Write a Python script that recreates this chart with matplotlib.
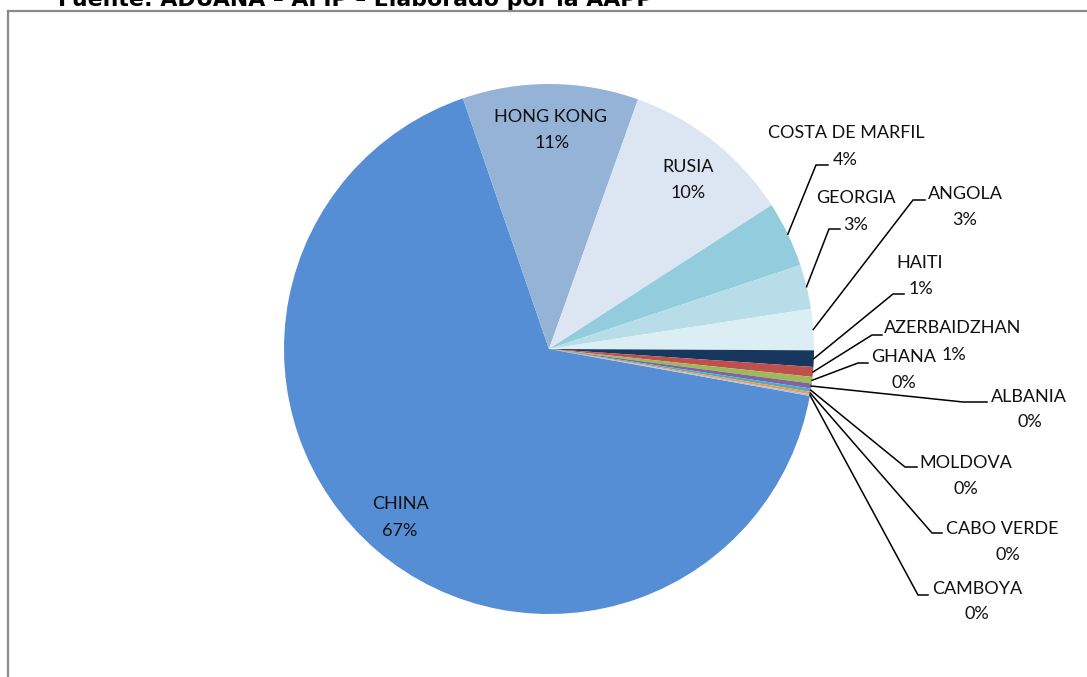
import numpy as np
import matplotlib
matplotlib.use("Agg")
import matplotlib.pyplot as plt
from matplotlib.lines import Line2D

# ---------------- data ----------------
countries = ["CHINA", "HONG KONG", "RUSIA", "COSTA DE MARFIL", "GEORGIA", "ANGOLA",
             "HAITI", "AZERBAIDZHAN", "GHANA", "ALBANIA", "MOLDOVA", "CABO VERDE", "CAMBOYA"]
shares = [66.8, 10.7, 10.4, 4.0, 2.7, 2.5, 1.0, 0.6, 0.4, 0.3, 0.2, 0.15, 0.1]
colors = ["#558ED5", "#95B3D7", "#DCE6F2", "#93CDDD", "#B7DEE8", "#DBEEF4",
          "#17375E", "#C0504D", "#9BBB59", "#8064A2", "#4BACC6", "#F79646", "#A6C1E4"]
title = "Fuente: ADUANA \u2013 AFIP \u2013 Elaborado por la AAPP"

# ---------------- layout (pixels in the 1087x677 canvas) ----------------
W, H = 1087, 677
CX, CY, R = 549, 349, 265
# label centres: (name_x, name_y, pct_x, pct_y)
label_pos = {
    "CHINA": (400, 504, 400, 531),
    "HONG KONG": (551, 117, 552, 143),
    "RUSIA": (688, 167, 688, 193),
    "COSTA DE MARFIL": (846, 133, 845, 160),
    "GEORGIA": (856, 198, 856, 225),
    "ANGOLA": (965, 194, 965, 220),
    "HAITI": (920, 263, 921, 289),
    "AZERBAIDZHAN": (953, 328, 954, 355),
    "GHANA": (904, 357, 904, 383),
    "ALBANIA": (1029, 397, 1030, 422),
    "MOLDOVA": (966, 463, 966, 489),
    "CABO VERDE": (1002, 529, 1008, 555),
    "CAMBOYA": (977, 589, 977, 614),
}
# leader lines: elbow, end
leaders = {
    "COSTA DE MARFIL": ((816, 165), (828, 165)),
    "GEORGIA": ((829, 229), (840, 229)),
    "ANGOLA": ((913, 200), (925, 200)),
    "HAITI": ((893, 294), (904, 294)),
    "AZERBAIDZHAN": ((872, 335), (882, 335)),
    "GHANA": ((858, 363), (868, 363)),
    "ALBANIA": ((963, 402), (987, 402)),
    "MOLDOVA": ((905, 467), (917, 467)),
    "CABO VERDE": ((932, 533), (942, 533)),
    "CAMBOYA": ((918, 595), (928, 595)),
}

FONT = ["Lato", "DejaVu Sans"]
FS = 13.0
TXT = "#111111"

fig = plt.figure(figsize=(W / 100, H / 100), dpi=100)
fig.patch.set_facecolor("white")

ax = fig.add_axes([(CX - R) / W, (H - CY - R) / H, 2 * R / W, 2 * R / H])

wedges, _ = ax.pie(shares, colors=colors, startangle=-10.2, counterclock=False,
                   radius=1.0, wedgeprops=dict(linewidth=0))
ax.set_xlim(-1, 1)
ax.set_ylim(-1, 1)
ax.set_aspect("equal")
ax.axis("off")


def p2d(px, py):
    return (px - CX) / R, (CY - py) / R


total = sum(shares)
for name, val, w in zip(countries, shares, wedges):
    pct = "{:.0f}%".format(val / total * 100)
    nx, ny, qx, qy = label_pos[name]
    ax.text(*p2d(nx, ny), name, ha="center", va="center", fontsize=FS,
            family=FONT, color=TXT, clip_on=False)
    ax.text(*p2d(qx, qy), pct, ha="center", va="center", fontsize=FS,
            family=FONT, color=TXT, clip_on=False)
    if name in leaders:
        mid = np.deg2rad((w.theta1 + w.theta2) / 2)
        sx, sy = np.cos(mid), np.sin(mid)
        (ex, ey), (fx, fy) = leaders[name]
        e = p2d(ex, ey)
        f = p2d(fx, fy)
        ax.add_line(Line2D([sx, e[0], f[0]], [sy, e[1], f[1]], color="black",
                           lw=1.1, clip_on=False, solid_joinstyle="miter"))

# frame of the embedded chart
fig.add_artist(Line2D([7.5 / W, 7.5 / W], [0, 1 - 10.5 / H], transform=fig.transFigure,
                      color="#8a8a8a", lw=1.6))
fig.add_artist(Line2D([7.5 / W, 1], [1 - 10.5 / H, 1 - 10.5 / H], transform=fig.transFigure,
                      color="#8a8a8a", lw=1.6))

fig.text(58 / W, 1 - 6.5 / H, title, ha="left", va="baseline", fontsize=15.8,
         fontweight="bold", family="DejaVu Sans", color="black")

fig.savefig("out.png", dpi=100, facecolor="white")
